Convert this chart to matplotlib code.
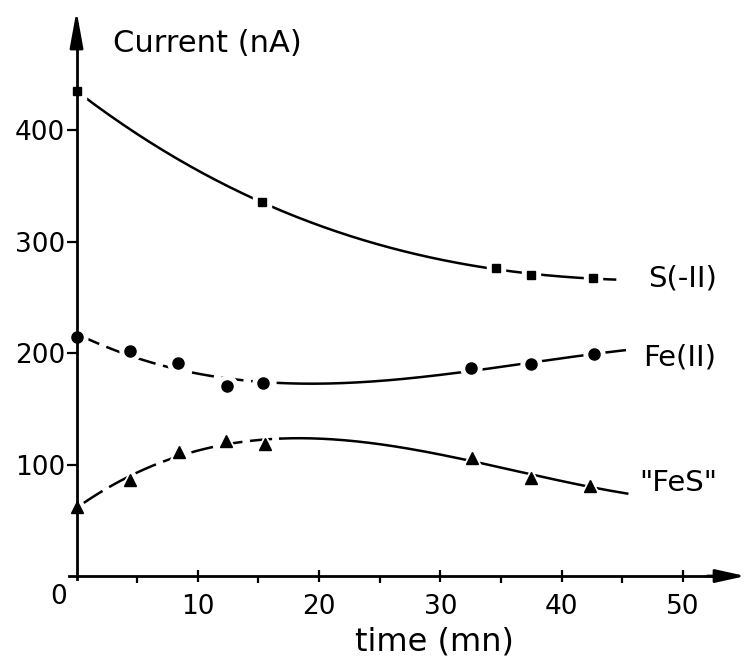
import numpy as np
import matplotlib
matplotlib.use("Agg")
import matplotlib.pyplot as plt

plt.rcParams['font.family'] = ['DejaVu Sans']
plt.rcParams['lines.scale_dashes'] = False

# ---- data ----
s_t = [0, 15.3, 34.6, 37.5, 42.6]
s_i = [435, 335, 276, 270, 267]

fe_t = [0, 4.4, 8.4, 12.4, 15.4, 32.5, 37.5, 42.7]
fe_i = [214, 202, 191, 170, 173, 187, 190, 199]

fes_t = [0, 4.4, 8.45, 12.3, 15.5, 32.6, 37.5, 42.3]
fes_i = [62, 86, 111, 121, 118, 106, 88, 81]

x_ticks = [10, 20, 30, 40, 50]
x_minor = [5, 15, 25, 35, 45]
y_ticks = [100, 200, 300, 400]

fig = plt.figure(figsize=(7.47, 6.58), dpi=100)
ax = fig.add_axes([0, 0, 1, 1])
ax.set_xlim(-6.31, 55.28)
ax.set_ylim(-73.5, 516.6)
ax.patch.set_alpha(0)

# spines as axes through origin
for side in ['top', 'right']:
    ax.spines[side].set_visible(False)
ax.spines['left'].set_position(('data', 0))
ax.spines['bottom'].set_position(('data', 0))
ax.spines['left'].set_bounds(-3, 495)
ax.spines['bottom'].set_bounds(-0.6, 54)
for side in ['left', 'bottom']:
    ax.spines[side].set_linewidth(2.0)
    ax.spines[side].set_zorder(3.5)

ax.annotate('', xy=(0, 507), xytext=(0, 480),
            arrowprops=dict(arrowstyle='-|>,head_length=2.2,head_width=0.4',
                            mutation_scale=10, color='black', lw=2.0, shrinkA=0, shrinkB=0))
ax.annotate('', xy=(55.15, 0), xytext=(52, 0),
            arrowprops=dict(arrowstyle='-|>,head_length=1.8,head_width=0.4',
                            mutation_scale=10, color='black', lw=2.0, shrinkA=0, shrinkB=0))

ax.set_yticks(y_ticks)
ax.set_yticklabels([str(v) for v in y_ticks])
ax.set_xticks(x_ticks)
ax.set_xticklabels([str(v) for v in x_ticks])
ax.set_xticks(x_minor, minor=True)
ax.tick_params(axis='y', direction='out', length=7, width=1.6, labelsize=19, pad=1)
ax.tick_params(axis='x', which='major', direction='inout', length=8, width=1.6,
               labelsize=19, pad=9)
ax.tick_params(axis='x', which='minor', direction='out', length=5, width=1.6)

ax.text(-1.5, -19, '0', ha='center', va='center', fontsize=19)

# ---- curves ----
def draw_curve(t, v, x0, x1, xdash):
    coef = np.polyfit(t, v, 3)
    if xdash is not None:
        xd = np.linspace(x0, xdash, 100)
        ax.plot(xd, np.polyval(coef, xd), color='black', lw=1.8,
                dashes=(16, 5.5), zorder=2)
        x0 = xdash
    xs = np.linspace(x0, x1, 200)
    ax.plot(xs, np.polyval(coef, xs), color='black', lw=1.8, zorder=2)

draw_curve(s_t, s_i, 0.5, 44.4, None)
draw_curve(fe_t, fe_i, 0.2, 45.2, 16.6)
draw_curve(fes_t, fes_i, 0.6, 45.4, 16.8)

def draw_markers(t, v, m, ms, halo):
    ax.plot(t, v, ls='none', marker=m, ms=halo, color='white', mec='white', zorder=3)
    ax.plot(t, v, ls='none', marker=m, ms=ms, color='black', mec='black', zorder=4)

draw_markers(s_t, s_i, 's', 6, 13)
draw_markers(fe_t, fe_i, 'o', 8, 15)
draw_markers(fes_t, fes_i, '^', 8, 15)

# ---- labels ----
ax.text(10.76, 478, 'Current (nA)', ha='center', va='center', fontsize=22)
ax.text(29.55, -59.5, 'time (mn)', ha='center', va='center', fontsize=23)
ax.text(47.1, 267, 'S(-II)', ha='left', va='center', fontsize=21)
ax.text(46.7, 196, 'Fe(II)', ha='left', va='center', fontsize=21)
ax.text(46.4, 83, '"FeS"', ha='left', va='center', fontsize=21)

fig.savefig('out.png', dpi=100)
